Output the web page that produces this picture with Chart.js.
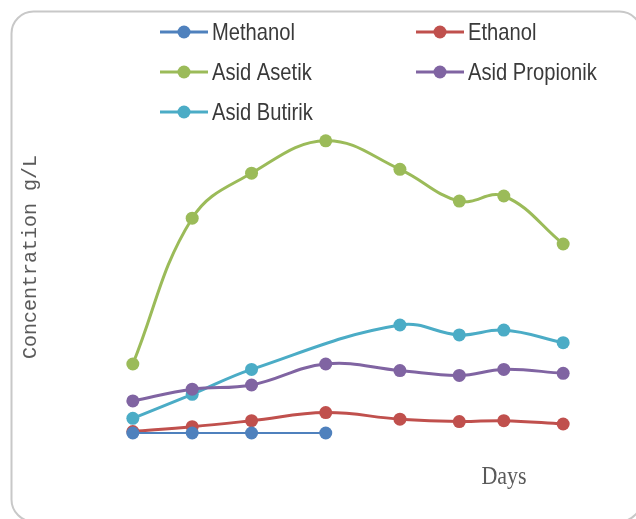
<!DOCTYPE html>
<html>
<head>
<meta charset="utf-8">
<script src="https://cdn.jsdelivr.net/npm/chart.js@4"></script>
<style>
  html, body { margin: 0; padding: 0; background: #ffffff; }
  #wrap { width: 636px; height: 519px; position: relative; }
</style>
</head>
<body>
<div id="wrap"><canvas id="chart" width="636" height="519"></canvas></div>
<script>
// Sampling days
const days = [1, 5, 9, 14, 19, 23, 26, 30];

// Concentrations in g/L per compound
const methanol   = [0.0, 0.0, 0.0, 0.0];
const ethanol    = [0.05, 0.21, 0.41, 0.68, 0.46, 0.38, 0.41, 0.30];
const asetik     = [2.30, 7.16, 8.66, 9.74, 8.79, 7.73, 7.90, 6.30];
const propionik  = [1.07, 1.46, 1.60, 2.30, 2.08, 1.92, 2.12, 1.99];
const butirik    = [0.49, 1.29, 2.12, null, 3.60, 3.27, 3.43, 3.01];

const seriesNames  = ['Methanol', 'Ethanol', 'Asid Asetik', 'Asid Propionik', 'Asid Butirik'];
const seriesValues = [methanol, ethanol, asetik, propionik, butirik];
const seriesColors = ['#4F81BD', '#C0504D', '#9BBB59', '#8064A2', '#4BACC6'];
const lineWidths   = [2, 3, 3, 3, 3];

const datasets = seriesNames.map((name, i) => ({
  label: name,
  data: seriesValues[i].map((v, j) => ({ x: days[j], y: v })),
  borderColor: seriesColors[i],
  backgroundColor: seriesColors[i],
  borderWidth: lineWidths[i],
  pointRadius: 6.5,
  pointHoverRadius: 6.5,
  pointBorderWidth: 0,
  tension: 0.4,
  spanGaps: true,
  fill: false
}));

// Rounded frame around the chart
const framePlugin = {
  id: 'frame',
  beforeDraw(chart) {
    const ctx = chart.ctx;
    ctx.save();
    ctx.fillStyle = '#ffffff';
    ctx.fillRect(0, 0, chart.width, chart.height);
    ctx.strokeStyle = '#c8c8c8';
    ctx.lineWidth = 2;
    ctx.beginPath();
    ctx.roundRect(11.5, 11.5, 630, 510, 22);
    ctx.stroke();
    ctx.restore();
  }
};

// Two-column legend and axis titles
const decorPlugin = {
  id: 'decor',
  afterDraw(chart) {
    const ctx = chart.ctx;
    ctx.save();
    const cols = [160, 416];
    const rows = [32, 72, 112];
    chart.data.datasets.forEach((ds, i) => {
      const x0 = cols[i % 2];
      const y = rows[Math.floor(i / 2)];
      ctx.strokeStyle = ds.borderColor;
      ctx.lineWidth = 3;
      ctx.beginPath();
      ctx.moveTo(x0, y);
      ctx.lineTo(x0 + 48, y);
      ctx.stroke();
      ctx.fillStyle = ds.borderColor;
      ctx.beginPath();
      ctx.arc(x0 + 24, y, 6.5, 0, Math.PI * 2);
      ctx.fill();
      ctx.save();
      ctx.translate(x0 + 52, y + 1);
      ctx.scale(0.84, 1);
      ctx.fillStyle = '#3a3a3a';
      ctx.font = '24px "Liberation Sans", sans-serif';
      ctx.textBaseline = 'middle';
      ctx.textAlign = 'left';
      ctx.fillText(ds.label, 0, 0);
      ctx.restore();
    });

    ctx.fillStyle = '#5a5a5a';
    ctx.font = '20px "Liberation Mono", "DejaVu Sans Mono", monospace';
    ctx.textAlign = 'center';
    ctx.textBaseline = 'middle';
    ctx.save();
    ctx.translate(31, 257);
    ctx.rotate(-Math.PI / 2);
    ctx.fillText('Concentration g/L', 0, 0);
    ctx.restore();

    ctx.save();
    ctx.translate(504, 477);
    ctx.scale(0.88, 1);
    ctx.font = '25px "Liberation Serif", "DejaVu Serif", serif';
    ctx.fillText('Days', 0, 0);
    ctx.restore();
    ctx.restore();
  }
};

new Chart(document.getElementById('chart'), {
  type: 'line',
  data: { datasets },
  plugins: [framePlugin, decorPlugin],
  options: {
    responsive: false,
    animation: false,
    events: [],
    layout: { padding: { left: 118, right: 58, top: 118, bottom: 71 } },
    plugins: { legend: { display: false }, tooltip: { enabled: false } },
    scales: {
      x: { type: 'linear', display: false, min: 0, max: 31 },
      y: { type: 'linear', display: false, min: -0.5, max: 10.5 }
    }
  }
});
</script>
</body>
</html>
